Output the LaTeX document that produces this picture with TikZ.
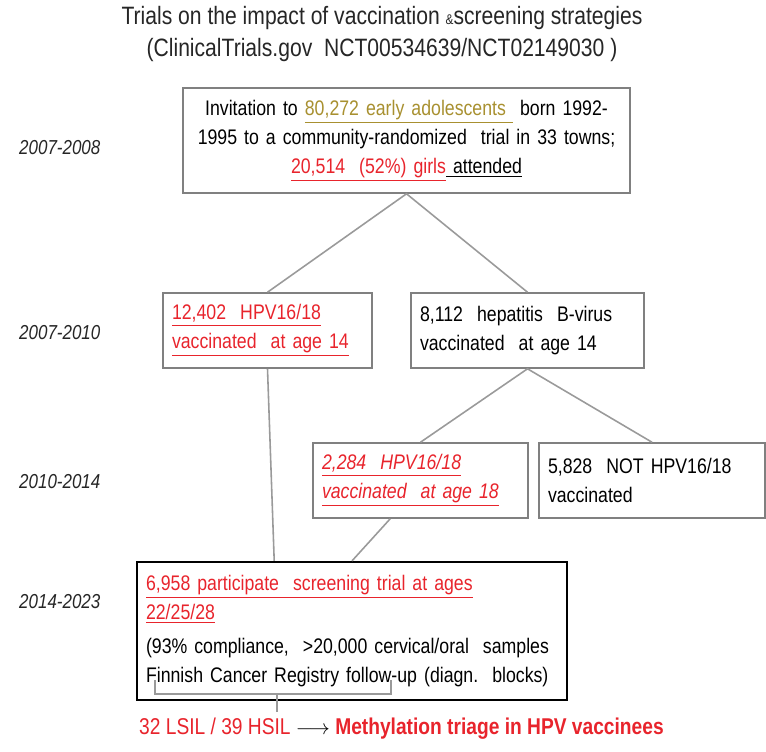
\documentclass[tikz,border=0pt]{standalone}
\usepackage{fontspec}
\setmainfont{Liberation Sans}[FakeStretch=0.84]
\usepackage{tikz}
\usetikzlibrary{calc}
\tikzset{>=latex}
\definecolor{trialred}{HTML}{E8242C}
\definecolor{olivegold}{HTML}{A89030}
\definecolor{boxgray}{HTML}{808080}
\definecolor{linegray}{HTML}{9A9A9A}
\tikzset{
  box/.style={draw=boxgray,line width=0.9pt,inner xsep=0.18cm,inner ysep=0pt,align=left,
    minimum height=1.5cm,font=\fontsize{12}{16.5}\selectfont},
  year/.style={anchor=west,font=\fontsize{11.5}{14}\selectfont\itshape,text=black!85},
  link/.style={draw=linegray,line width=0.9pt}
}
\newcommand{\ul}[1]{\underline{#1}}

\begin{document}
\begin{tikzpicture}[x=0.02cm,y=-0.02cm]
\useasboundingbox (0,0) rectangle (766,751);
% title
\node [align=center,font=\fontsize{14.3}{18.5}\selectfont,text=black!85] (title) at (382,34)
  {Trials on the impact of vaccination {\footnotesize\&}screening strategies\\
   (ClinicalTrials.gov\ \ NCT00534639/NCT02149030 )};
% years
\node [year] (y1) at (13,148) {2007-2008};
\node [year] (y2) at (13,333) {2007-2010};
\node [year] (y3) at (13,482) {2010-2014};
\node [year] (y4) at (13,602) {2014-2023};
% boxes
\node [box,align=center,text width=8.58cm,minimum height=2.1cm] (invite) at (406.5,140.5)
  {Invitation to \textcolor{olivegold}{\ul{80,272 early adolescents\ }} born 1992-\\
   1995 to a community-randomized\ \ trial in 33 towns;\\
   \textcolor{trialred}{\ul{20,514\ \ (52\%) girls}}\ul{ attended}};
\node [box,text width=3.82cm] (hpvA) at (267.5,330.5)
  {\textcolor{trialred}{\ul{12,402\ \ HPV16/18}}\\
   \textcolor{trialred}{\ul{vaccinated\ \ at age 14}}};
\node [box,text width=4.3cm] (hbv) at (527.5,330.5)
  {8,112\ \ hepatitis\ \ B-virus\\vaccinated\ \ at age 14};
\node [box,text width=3.94cm] (hpvB) at (420.5,480.5)
  {\textcolor{trialred}{\itshape\ul{2,284\ \ HPV16/18}}\\
   \textcolor{trialred}{\itshape\ul{vaccinated\ \ at age 18}}};
\node [box,text width=4.16cm] (notv) at (652,480.5)
  {5,828\ \ NOT HPV16/18\\vaccinated};
\node [box,draw=black,line width=1.3pt,text width=8.24cm,minimum height=2.76cm] (screen) at (352,631)
  {\textcolor{trialred}{\ul{6,958 participate\ \ screening trial at ages}}\\
   \textcolor{trialred}{\ul{22/25/28}}\\[3pt]
   (93\% compliance,\ \ {>}20,000 cervical/oral\ \ samples\\
   Finnish Cancer Registry follow-up (diagn.\ \ blocks)};
% outcome
\node [anchor=west,font=\fontsize{13}{15}\selectfont,text=trialred] (triage) at (133,729)
  {32 LSIL / 39 HSIL \textcolor{black}{$\longrightarrow$} \textbf{Methylation triage in HPV vaccinees}};
% connectors
\coordinate (hpvAend) at ($(screen.north west)!0.32!(screen.north east)$);
\coordinate (hpvBstart) at ($(hpvB.south west)!0.36!(hpvB.south east)$);
\draw [link] (hpvA.north) -- (invite.south) -- (hbv.north);
\draw [link] (hpvB.north) -- (hbv.south) -- (notv.north);
\draw [link] (hpvA.south) -- (hpvAend);
\draw [link] (hpvBstart) -- (screen.north);
% bracket under registry line
\draw [link] (155,680) -- (155,694) -- (391,694) -- (391,680);
\coordinate (stem) at (277,694);
\draw [link] (stem) -- (stem |- triage.north);
\end{tikzpicture}
\end{document}
